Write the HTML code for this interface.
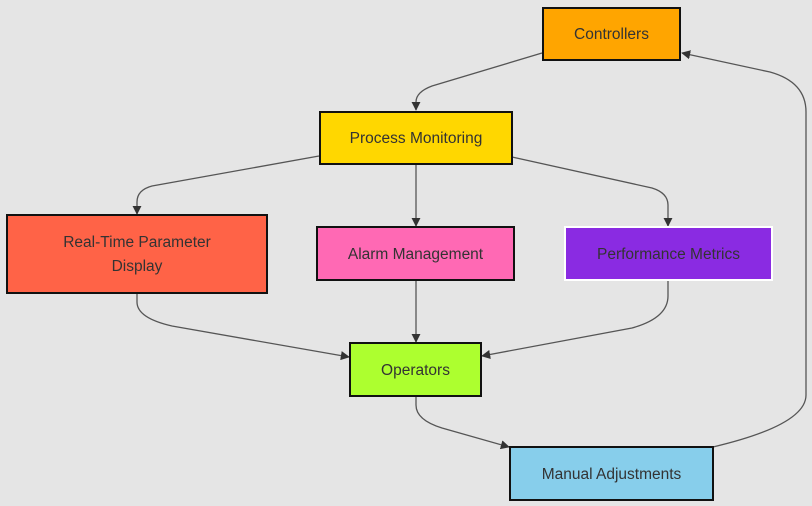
<!DOCTYPE html>
<html><head><style>
body{margin:0;background:#e5e5e5;}
.n{position:absolute;box-sizing:border-box;border:2px solid #111;display:flex;align-items:center;justify-content:center;text-align:center;font-family:"Liberation Sans",sans-serif;font-size:15.5px;color:#333;line-height:24px;padding-top:2px;}
</style></head><body>
<div style="position:relative;width:812px;height:506px;overflow:hidden">
<svg width="812" height="506" style="position:absolute;left:0;top:0">
<defs><marker id="a" viewBox="0 0 10 10" refX="9" refY="5" markerWidth="7" markerHeight="7" orient="auto"><path d="M0,0L10,5L0,10z" fill="#333"/></marker></defs>
<g fill="none" stroke="#555" stroke-width="1.3" marker-end="url(#a)">
<path d="M542,53 L432,86 Q416,92 416,102 L416,110"/>
<path d="M319,156 L152,186 Q137,190 137,202 L137,214"/>
<path d="M416,164 L416,226"/>
<path d="M512,157 L652,188 Q668,193 668,205 L668,226"/>
<path d="M137,293 L137,302 Q137,318 172,326 L349,357"/>
<path d="M416,280 L416,342"/>
<path d="M668,280 L668,296 Q668,318 632,328 L482,356"/>
<path d="M416,396 L416,405 Q416,420 442,428 L509,447"/>
<path d="M713,447 Q806,425 806,395 L806,112 Q806,82 770,72 L682,53"/>
</g></svg>
<div class="n" style="left:542px;top:7px;width:139px;height:54px;background:#FFA500">Controllers</div>
<div class="n" style="left:319px;top:111px;width:194px;height:54px;background:#FFD700">Process Monitoring</div>
<div class="n" style="left:6px;top:214px;width:262px;height:80px;background:#FF6347">Real-Time Parameter<br>Display</div>
<div class="n" style="left:316px;top:226px;width:199px;height:55px;background:#FF69B4">Alarm Management</div>
<div class="n" style="left:564px;top:226px;width:209px;height:55px;background:#8A2BE2;border-color:#fff">Performance Metrics</div>
<div class="n" style="left:349px;top:342px;width:133px;height:55px;background:#ADFF2F">Operators</div>
<div class="n" style="left:509px;top:446px;width:205px;height:55px;background:#87CEEB">Manual Adjustments</div>
</div>
</body></html>
